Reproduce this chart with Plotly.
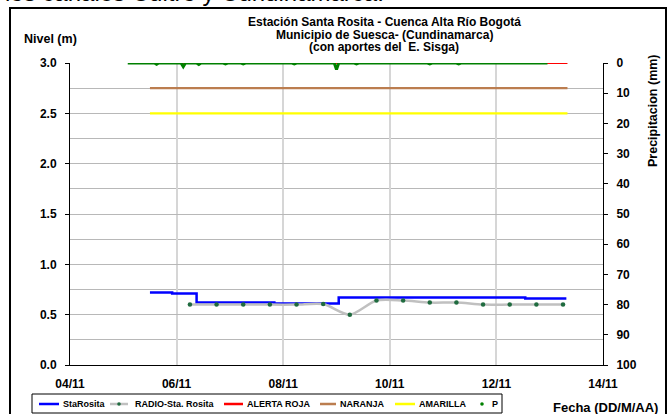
import plotly.graph_objects as go

FONT = "Arial, 'Liberation Sans', sans-serif"

# --- Datos ---
# Nivel StaRosita (m), registro en escalones
sta_time = ["2010-11-05 12:00", "2010-11-05 22:00", "2010-11-06 09:00",
            "2010-11-07 20:00", "2010-11-09 01:00", "2010-11-12 13:00",
            "2010-11-13 07:30"]
sta_nivel = [0.72, 0.71, 0.62, 0.61, 0.67, 0.66, 0.66]

# Nivel RADIO-Sta. Rosita (m), lecturas cada 12 h
radio_time = ["2010-11-06 06:00", "2010-11-06 18:00", "2010-11-07 06:00",
              "2010-11-07 18:00", "2010-11-08 06:00", "2010-11-08 18:00",
              "2010-11-09 06:00", "2010-11-09 18:00", "2010-11-10 06:00",
              "2010-11-10 18:00", "2010-11-11 06:00", "2010-11-11 18:00",
              "2010-11-12 06:00", "2010-11-12 18:00", "2010-11-13 06:00"]
radio_nivel = [0.60, 0.60, 0.60, 0.60, 0.60, 0.605, 0.50, 0.64, 0.64,
               0.62, 0.62, 0.60, 0.60, 0.60, 0.60]

# Umbrales de alerta (m)
umbral_time = ["2010-11-05 12:00", "2010-11-13 08:00"]
alerta_roja = [3.0, 3.0]
alerta_naranja = [2.75, 2.75]
alerta_amarilla = [2.5, 2.5]

# Precipitación P (mm)
p_time = ["2010-11-05 02:00",
          "2010-11-05 14:00", "2010-11-05 15:00", "2010-11-05 16:00",
          "2010-11-06 02:00", "2010-11-06 03:00", "2010-11-06 04:00",
          "2010-11-06 09:00", "2010-11-06 10:00", "2010-11-06 11:00",
          "2010-11-06 21:00", "2010-11-06 22:00", "2010-11-06 23:00",
          "2010-11-07 05:00", "2010-11-07 06:00", "2010-11-07 07:00",
          "2010-11-08 04:00", "2010-11-08 05:00", "2010-11-08 06:00",
          "2010-11-08 23:00", "2010-11-09 00:00", "2010-11-09 01:00",
          "2010-11-09 08:00", "2010-11-09 09:00", "2010-11-09 10:00",
          "2010-11-10 17:00", "2010-11-10 18:00", "2010-11-10 19:00",
          "2010-11-11 06:00", "2010-11-11 07:00", "2010-11-11 08:00",
          "2010-11-12 23:00"]
p_mm = [0,
        0, 0.4, 0,
        0, 1.2, 0,
        0, 0.5, 0,
        0, 0.3, 0,
        0, 0.3, 0,
        0, 0.3, 0,
        0, 2.2, 0,
        0, 0.3, 0,
        0, 0.3, 0,
        0, 0.3, 0,
        0]

x_ticks = ["2010-11-04", "2010-11-06", "2010-11-08", "2010-11-10",
           "2010-11-12", "2010-11-14"]
x_ticktext = ["04/11", "06/11", "08/11", "10/11", "12/11", "14/11"]

# Colores
C_STA = "#0000ff"
C_RADIO = "#c0c0c0"
C_RADIO_MK = "#1f6b3f"
C_ROJA = "#ff0000"
C_NARANJA = "#bb7d4f"
C_AMARILLA = "#ffff00"
C_P = "#008000"

# Área de trazado en píxeles (668x414)
L, R, T, B = 70, 603, 63, 365
W, H = 668, 414


def px_x(x):
    return (x - L) / (R - L)


def px_y(y):
    return 1 - (y - T) / (B - T)


fig = go.Figure()

fig.add_trace(go.Scatter(
    x=sta_time, y=sta_nivel, name="StaRosita", mode="lines",
    line=dict(color=C_STA, width=2.5, shape="hv"), showlegend=False))
fig.add_trace(go.Scatter(
    x=radio_time, y=radio_nivel, name="RADIO-Sta. Rosita", mode="lines+markers",
    line=dict(color=C_RADIO, width=2.5, shape="spline", smoothing=0.8),
    marker=dict(color=C_RADIO_MK, size=4.5), showlegend=False))
for vals, color, name in [(alerta_roja, C_ROJA, "ALERTA ROJA"),
                          (alerta_naranja, C_NARANJA, "NARANJA"),
                          (alerta_amarilla, C_AMARILLA, "AMARILLA")]:
    fig.add_trace(go.Scatter(
        x=umbral_time, y=vals, name=name, mode="lines",
        line=dict(color=color, width=2.2), showlegend=False))
fig.add_trace(go.Scatter(
    x=p_time, y=p_mm, name="P", mode="lines", yaxis="y2",
    line=dict(color=C_P, width=3), showlegend=False))

# --- Leyenda dibujada a mano (como en el original) ---
shapes = []
annotations = []
leg_y = px_y(404)
legend_items = [
    ("StaRosita", C_STA, 39, 59, 61),
    ("RADIO-Sta. Rosita", C_RADIO, 110, 128, 133),
    ("ALERTA ROJA", C_ROJA, 224, 243, 245),
    ("NARANJA", C_NARANJA, 320, 336, 338),
    ("AMARILLA", C_AMARILLA, 395, 415, 417),
]
for name, color, x0, x1, xt in legend_items:
    shapes.append(dict(type="line", xref="paper", yref="paper",
                       x0=px_x(x0), x1=px_x(x1), y0=leg_y, y1=leg_y,
                       line=dict(color=color, width=2.5)))
    annotations.append(dict(text=name, xref="paper", yref="paper",
                            x=px_x(xt), y=leg_y, xanchor="left", yanchor="middle",
                            showarrow=False,
                            font=dict(family=FONT, size=9, color="black", weight="bold")))
for xc, col in [(119, C_RADIO_MK), (482, C_P)]:
    shapes.append(dict(type="circle", xref="paper", yref="paper",
                       xsizemode="pixel", ysizemode="pixel",
                       xanchor=px_x(xc), yanchor=leg_y,
                       x0=-1.8, x1=1.8, y0=-1.8, y1=1.8,
                       fillcolor=col, line=dict(width=0)))
annotations.append(dict(text="P", xref="paper", yref="paper",
                        x=px_x(490), y=leg_y, xanchor="left", yanchor="middle",
                        showarrow=False,
                        font=dict(family=FONT, size=9, color="black", weight="bold")))
shapes.append(dict(type="rect", xref="paper", yref="paper",
                   x0=px_x(32), x1=px_x(502), y0=px_y(413), y1=px_y(394),
                   line=dict(color="black", width=1)))

# marco exterior
shapes.append(dict(type="rect", xref="paper", yref="paper",
                   x0=px_x(10), x1=px_x(666), y0=px_y(440), y1=px_y(8),
                   line=dict(color="black", width=2)))

# títulos
for txt, ypx in [("Estación Santa Rosita - Cuenca Alta Río Bogotá", 22),
                 ("Municipio de Suesca- (Cundinamarca)", 34.5),
                 ("(con aportes del  E. Sisga)", 47)]:
    annotations.append(dict(text=txt, xref="paper", yref="paper",
                            x=px_x(384), y=px_y(ypx), xanchor="center",
                            yanchor="middle", showarrow=False,
                            font=dict(family=FONT, size=12, color="black",
                                      weight="bold")))
annotations.append(dict(text="Nivel (m)", xref="paper", yref="paper",
                        x=px_x(22), y=px_y(39), xanchor="left", yanchor="middle",
                        showarrow=False,
                        font=dict(family=FONT, size=12.5, color="black", weight="bold")))
annotations.append(dict(text="Precipitacion (mm)", xref="paper", yref="paper",
                        x=px_x(653), y=px_y(111), xanchor="center",
                        yanchor="middle", textangle=-90, showarrow=False,
                        font=dict(family=FONT, size=12.5, color="black", weight="bold")))
annotations.append(dict(text="Fecha (DD/M/AA)", xref="paper", yref="paper",
                        x=px_x(605), y=px_y(407), xanchor="center",
                        yanchor="middle", showarrow=False,
                        font=dict(family=FONT, size=13, color="black", weight="bold")))
# texto del documento, cortado arriba
annotations.append(dict(text="los canales Cultro y Cundinamarca.", xref="paper",
                        yref="paper", x=px_x(3), y=px_y(8), xanchor="left",
                        yanchor="bottom", showarrow=False,
                        font=dict(family=FONT, size=24, color="black")))

fig.update_layout(
    width=W, height=H,
    margin=dict(l=L, r=W - R, t=T, b=H - B, pad=0),
    paper_bgcolor="white", plot_bgcolor="white",
    font=dict(family=FONT, color="black"),
    showlegend=False,
    shapes=shapes, annotations=annotations,
    xaxis=dict(type="date", range=["2010-11-04", "2010-11-14"],
               tickvals=x_ticks, ticktext=x_ticktext,
               showgrid=True, gridcolor="#d6d6d6", gridwidth=1.5,
               showline=True, linecolor="black", linewidth=1,
               ticks="", ticklabelstandoff=8,
               tickfont=dict(size=12, weight="bold"), zeroline=False),
    yaxis=dict(range=[0, 3], dtick=0.5, tickformat=".1f",
               showgrid=True, gridcolor="#b8b8b8", gridwidth=1,
               minor=dict(dtick=0.25, showgrid=True, gridcolor="#b8b8b8",
                          gridwidth=1),
               showline=True, linecolor="black", linewidth=1,
               ticks="outside", ticklen=4, tickcolor="black",
               ticklabelstandoff=6,
               tickfont=dict(size=12, weight="bold"), zeroline=False),
    yaxis2=dict(range=[100, 0], dtick=10, overlaying="y", side="right",
                showgrid=False, showline=True, linecolor="black", linewidth=1,
                ticks="outside", ticklen=4, tickcolor="black",
                ticklabelstandoff=6,
                tickfont=dict(size=12, weight="bold"), zeroline=False),
)

fig.write_html("out.html", config={"displayModeBar": False},
               post_script="document.body.style.margin='0px';")
